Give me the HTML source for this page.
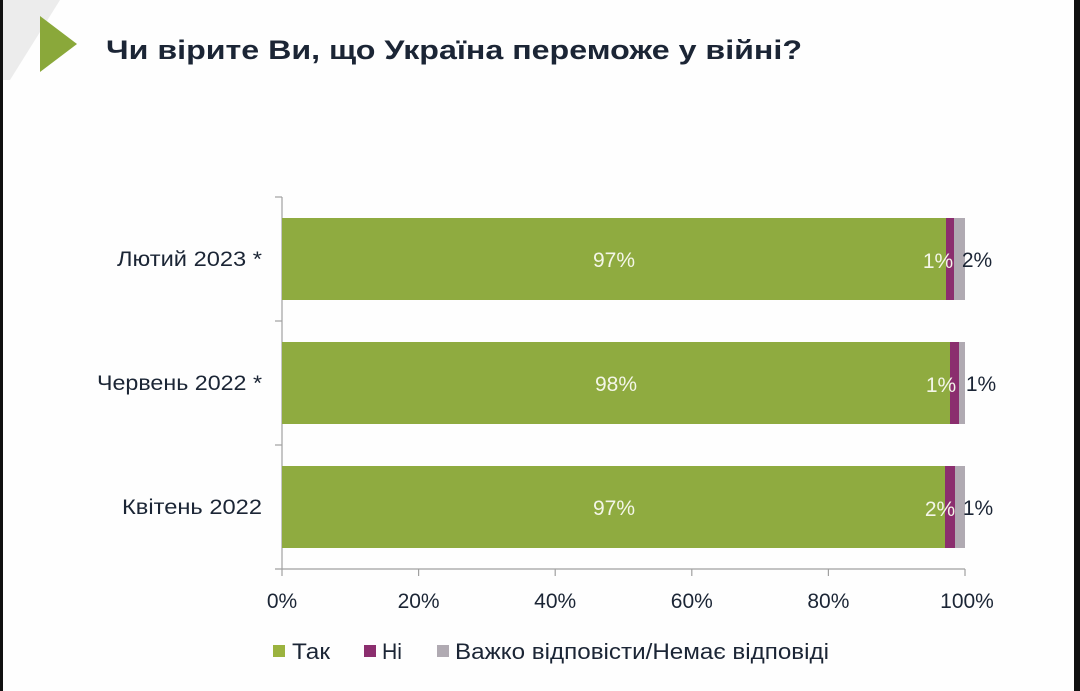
<!DOCTYPE html>
<html><head><meta charset="utf-8"><style>
html,body{margin:0;padding:0;background:#fff}
svg{display:block}
text{font-family:"Liberation Sans","DejaVu Sans",sans-serif;fill:#1b2535}
</style></head><body>
<svg width="1080" height="691" viewBox="0 0 1080 691" xmlns="http://www.w3.org/2000/svg">
<rect width="1080" height="691" fill="#fefefe"/>
<polygon points="0,0 60,0 10,80 0,80" fill="#ececec"/>
<rect x="0" y="0" width="3" height="691" fill="#111"/>
<rect x="1074" y="0" width="6" height="691" fill="#111"/>
<polygon points="40,16 77,44 40,72" fill="#8aa83a"/>
<text x="106" y="59" font-size="27" font-weight="bold" textLength="696" lengthAdjust="spacingAndGlyphs">Чи вірите Ви, що Україна переможе у війні?</text>

<g stroke="#a0a0a0" stroke-width="1.2">
<line x1="282" y1="197" x2="282" y2="569"/>
<line x1="275" y1="197" x2="282" y2="197"/>
<line x1="275" y1="321" x2="282" y2="321"/>
<line x1="275" y1="445" x2="282" y2="445"/>
<line x1="275" y1="569" x2="965" y2="569"/>
<line x1="282" y1="569" x2="282" y2="576"/>
<line x1="418.6" y1="569" x2="418.6" y2="576"/>
<line x1="555.2" y1="569" x2="555.2" y2="576"/>
<line x1="691.8" y1="569" x2="691.8" y2="576"/>
<line x1="828.4" y1="569" x2="828.4" y2="576"/>
<line x1="965" y1="569" x2="965" y2="576"/>
</g>

<rect x="282" y="218" width="664" height="82" fill="#8fab40"/>
<rect x="946" y="218" width="8" height="82" fill="#8b2e6e"/>
<rect x="954" y="218" width="11" height="82" fill="#b0aab2"/>
<rect x="282" y="342" width="668" height="82" fill="#8fab40"/>
<rect x="950" y="342" width="9" height="82" fill="#8b2e6e"/>
<rect x="959" y="342" width="6" height="82" fill="#b0aab2"/>
<rect x="282" y="466" width="663" height="82" fill="#8fab40"/>
<rect x="945" y="466" width="10" height="82" fill="#8b2e6e"/>
<rect x="955" y="466" width="10" height="82" fill="#b0aab2"/>

<g font-size="21" text-anchor="middle">
<text x="614" y="267" style="fill:#f4f6e8">97%</text>
<text x="616" y="391" style="fill:#f4f6e8">98%</text>
<text x="614" y="515" style="fill:#f4f6e8">97%</text>
<text x="938" y="268" style="fill:#f4f6e8">1%</text>
<text x="941" y="392" style="fill:#f4f6e8">1%</text>
<text x="940" y="516" style="fill:#f4f6e8">2%</text>
</g>
<g font-size="21" text-anchor="middle">
<text x="977" y="267">2%</text>
<text x="981" y="391">1%</text>
<text x="978" y="515">1%</text>
</g>

<g font-size="21">
<text x="117" y="266" textLength="145" lengthAdjust="spacingAndGlyphs">Лютий 2023 *</text>
<text x="97" y="390" textLength="165" lengthAdjust="spacingAndGlyphs">Червень 2022 *</text>
<text x="122" y="514" textLength="140" lengthAdjust="spacingAndGlyphs">Квітень 2022</text>
</g>
<g font-size="21" text-anchor="middle">
<text x="282" y="608">0%</text>
<text x="418.6" y="608">20%</text>
<text x="555.2" y="608">40%</text>
<text x="691.8" y="608">60%</text>
<text x="828.4" y="608">80%</text>
<text x="967" y="608">100%</text>
</g>

<rect x="273" y="645" width="12" height="12" fill="#9bb33f"/>
<text x="292" y="659" font-size="22" textLength="38" lengthAdjust="spacingAndGlyphs">Так</text>
<rect x="364" y="645" width="12" height="12" fill="#8b2e6e"/>
<text x="382" y="659" font-size="22" textLength="20" lengthAdjust="spacingAndGlyphs">Ні</text>
<rect x="437" y="645" width="12" height="12" fill="#b0aab2"/>
<text x="455" y="659" font-size="22" textLength="374" lengthAdjust="spacingAndGlyphs">Важко відповісти/Немає відповіді</text>
</svg>
</body></html>
